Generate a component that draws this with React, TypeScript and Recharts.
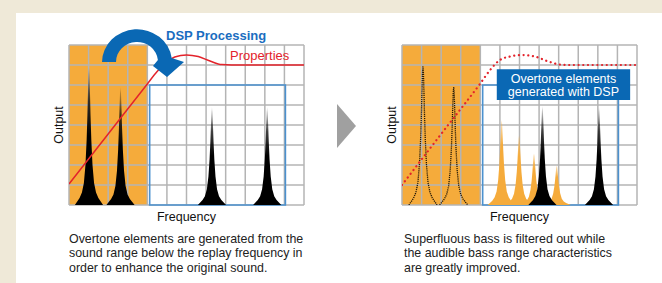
import React from "react";
import {
  ComposedChart,
  Area,
  Line,
  XAxis,
  YAxis,
  CartesianGrid,
  ReferenceArea,
} from "recharts";

const FONT = "'Liberation Sans', Arial, Helvetica, sans-serif";
const ORANGE = "#f5ab3b";
const BLUE = "#0a68b4";

// grid: 12 frequency columns, 8 output rows
const colTicks = [0, 1, 2, 3, 4, 5, 6, 7, 8, 9, 10, 11, 12];
const rowTicks = [0, 1, 2, 3, 4, 5, 6, 7, 8];
const bassCols = 4;

// shape of one spike: column offset / share of peak height
const spikeOffsets = [-0.72, -0.6, -0.48, -0.36, -0.26, -0.18, -0.12, -0.08, -0.05, -0.025, 0, 0.025, 0.05, 0.08, 0.12, 0.18, 0.26, 0.36, 0.48, 0.6, 0.72];
const spikeShares = [0, 0.025, 0.05, 0.09, 0.16, 0.29, 0.47, 0.65, 0.82, 0.95, 1, 0.95, 0.82, 0.65, 0.47, 0.29, 0.16, 0.09, 0.05, 0.025, 0];

const leftPeakPos = [1.02, 2.63, 7.3, 10.12];
const leftPeakTop = [6.9, 5.9, 4.9, 4.9];

const rightGhostPos = [1.07, 2.64];
const rightGhostTop = [6.95, 5.9];
const rightOvertonePos = [5.09, 5.98, 6.74, 7.9];
const rightOvertoneTop = [4.25, 3.5, 2.58, 1.97];
const rightPeakPos = [7.17, 10.06];
const rightPeakTop = [4.95, 4.9];

// "Properties" response curve
const leftCurveX = [0, 2, 4, 4.5, 5, 5.4, 6.0, 6.6, 7.2, 7.8, 8.3, 12];
const leftCurveY = [1.05, 3.55, 6.05, 6.67, 7.15, 7.4, 7.5, 7.42, 7.2, 7.02, 7.0, 7.0];
const rightCurveX = [0, 2, 4, 4.5, 5, 5.5, 6.1, 6.8, 7.4, 8.1, 8.6, 12];
const rightCurveY = [1.0, 3.55, 6.08, 6.75, 7.25, 7.42, 7.5, 7.42, 7.2, 7.02, 7.0, 7.0];

const spike = (pos: number, top: number) =>
  spikeOffsets.map((dx, i) => ({ x: pos + dx, y: top * spikeShares[i] }));
const curve = (xs: number[], ys: number[]) => xs.map((x, i) => ({ x, y: ys[i] }));

const stripeFill = colTicks.map((t) => (t < bassCols ? ORANGE : "transparent"));

const vGen = ({ xAxis, offset }: any) =>
  colTicks.map((t) =>
    xAxis && typeof xAxis.scale === "function"
      ? xAxis.scale(t)
      : offset.left + (t / 12) * offset.width
  );
const hGen = ({ yAxis, offset }: any) =>
  rowTicks.map((t) =>
    yAxis && typeof yAxis.scale === "function"
      ? yAxis.scale(t)
      : offset.top + offset.height - (t / 8) * offset.height
  );

const axisLabel = { fill: "#111", fontSize: 12.5, fontFamily: FONT };

const OvertoneLabel = (props: any) => {
  const vb = props.viewBox || {};
  const cx = vb.x + vb.width / 2;
  const cy = vb.y + vb.height / 2;
  return (
    <text fill="#fff" fontSize={12.5} fontFamily={FONT} textAnchor="middle">
      <tspan x={cx} y={cy - 2}>Overtone elements</tspan>
      <tspan x={cx} y={cy + 11.5}>generated with DSP</tspan>
    </text>
  );
};

const Defs = () => (
  <defs>
    <linearGradient id="spikeBlack" x1="0" y1="0" x2="0" y2="1">
      <stop offset="0%" stopColor="#000" stopOpacity={0.1} />
      <stop offset="25%" stopColor="#000" stopOpacity={0.75} />
      <stop offset="50%" stopColor="#000" stopOpacity={1} />
      <stop offset="100%" stopColor="#000" stopOpacity={1} />
    </linearGradient>
    <linearGradient id="spikeOrange" x1="0" y1="0" x2="0" y2="1">
      <stop offset="0%" stopColor={ORANGE} stopOpacity={0.35} />
      <stop offset="30%" stopColor={ORANGE} stopOpacity={1} />
      <stop offset="100%" stopColor={ORANGE} stopOpacity={1} />
    </linearGradient>
  </defs>
);

const App: React.FC = () => {
  const xAxis = (
    <XAxis
      type="number"
      dataKey="x"
      domain={[0, 12]}
      ticks={colTicks}
      interval={0}
      allowDataOverflow
      tick={false}
      tickLine={false}
      axisLine={false}
      height={23}
      label={{ value: "Frequency", position: "center", ...axisLabel }}
    />
  );
  const yAxis = (
    <YAxis
      type="number"
      domain={[0, 8]}
      ticks={rowTicks}
      interval={0}
      allowDataOverflow
      tick={false}
      tickLine={false}
      axisLine={false}
      width={20}
      label={{ value: "Output", angle: -90, position: "center", ...axisLabel }}
    />
  );
  const grid = (
    <CartesianGrid
      stroke="#b4b4b4"
      strokeWidth={1.5}
      verticalFill={stripeFill}
      verticalCoordinatesGenerator={vGen}
      horizontalCoordinatesGenerator={hGen}
    />
  );

  return (
    <div style={{ position: "absolute", left: 0, top: 0, width: 662, height: 283, background: "#efe9d8", overflow: "hidden", fontFamily: FONT }}>
      <div style={{ position: "absolute", left: 16, top: 13, right: 0, bottom: 0, background: "#fff" }} />

      <div style={{ position: "absolute", left: 0, top: 0 }}>
        <ComposedChart width={331} height={283} margin={{ top: 45, right: 27, bottom: 55, left: 49 }}>
          <Defs />
          {grid}
          {xAxis}
          {yAxis}
          <ReferenceArea x1={4.12} x2={11.05} y1={0} y2={6} fill="none" fillOpacity={0} stroke="#4b91cf" strokeWidth={1.6} />
          {leftPeakPos.map((p, i) => (
            <Area key={"lp" + i} data={spike(p, leftPeakTop[i])} dataKey="y" type="linear" stroke="none" fill="url(#spikeBlack)" fillOpacity={1} dot={false} activeDot={false} isAnimationActive={false} />
          ))}
          <Line data={curve(leftCurveX, leftCurveY)} dataKey="y" type="monotone" stroke="#e3232b" strokeWidth={1.5} dot={false} activeDot={false} isAnimationActive={false} />
        </ComposedChart>
      </div>

      <div style={{ position: "absolute", left: 331, top: 0 }}>
        <ComposedChart width={331} height={283} margin={{ top: 45, right: 25, bottom: 55, left: 51 }}>
          <Defs />
          {grid}
          {xAxis}
          {yAxis}
          <ReferenceArea x1={4.12} x2={11.05} y1={0} y2={6} fill="none" fillOpacity={0} stroke="#4b91cf" strokeWidth={1.6} />
          {rightGhostPos.map((p, i) => (
            <Line key={"gp" + i} data={spike(p, rightGhostTop[i])} dataKey="y" type="linear" stroke="#241a08" strokeWidth={1.3} strokeDasharray="1.2 0.9" dot={false} activeDot={false} isAnimationActive={false} />
          ))}
          {rightOvertonePos.map((p, i) => (
            <Area key={"op" + i} data={spike(p, rightOvertoneTop[i])} dataKey="y" type="linear" stroke="none" fill="url(#spikeOrange)" fillOpacity={1} dot={false} activeDot={false} isAnimationActive={false} />
          ))}
          {rightPeakPos.map((p, i) => (
            <Area key={"rp" + i} data={spike(p, rightPeakTop[i])} dataKey="y" type="linear" stroke="none" fill="url(#spikeBlack)" fillOpacity={1} dot={false} activeDot={false} isAnimationActive={false} />
          ))}
          <Line data={curve(rightCurveX, rightCurveY)} dataKey="y" type="monotone" stroke="#e3232b" strokeWidth={2.2} strokeDasharray="0.1 4.6" strokeLinecap="round" dot={false} activeDot={false} isAnimationActive={false} />
          <ReferenceArea x1={4.84} x2={11.65} y1={5.25} y2={6.79} fill={BLUE} fillOpacity={1} stroke="none" label={<OvertoneLabel />} />
        </ComposedChart>
      </div>

      <svg width={662} height={283} style={{ position: "absolute", left: 0, top: 0, pointerEvents: "none" }}>
        <text x={166} y={39.5} fill="#1a6dc0" fontSize={13} fontWeight="bold" fontFamily={FONT}>DSP Processing</text>
        <text x={230} y={59.5} fill="#e3232b" fontSize={13} fontFamily={FONT}>Properties</text>
        <path d="M102,62 A35,33 0 0 1 171.7,58 L184,62 L167,77 L153,66 L157.9,60 A21,20 0 0 0 116,62 Z" fill={BLUE} />
        <polygon points="337,104 356,126 337,148" fill="#a0a0a0" />
      </svg>

      <div style={{ position: "absolute", left: 69, top: 231.5, fontSize: 12.4, lineHeight: "14.5px", color: "#222", whiteSpace: "nowrap" }}>
        Overtone elements are generated from the<br />
        sound range below the replay frequency in<br />
        order to enhance the original sound.
      </div>
      <div style={{ position: "absolute", left: 404, top: 231.5, fontSize: 12.4, lineHeight: "14.5px", color: "#222", whiteSpace: "nowrap" }}>
        Superfluous bass is filtered out while<br />
        the audible bass range characteristics<br />
        are greatly improved.
      </div>
    </div>
  );
};

export default App;
